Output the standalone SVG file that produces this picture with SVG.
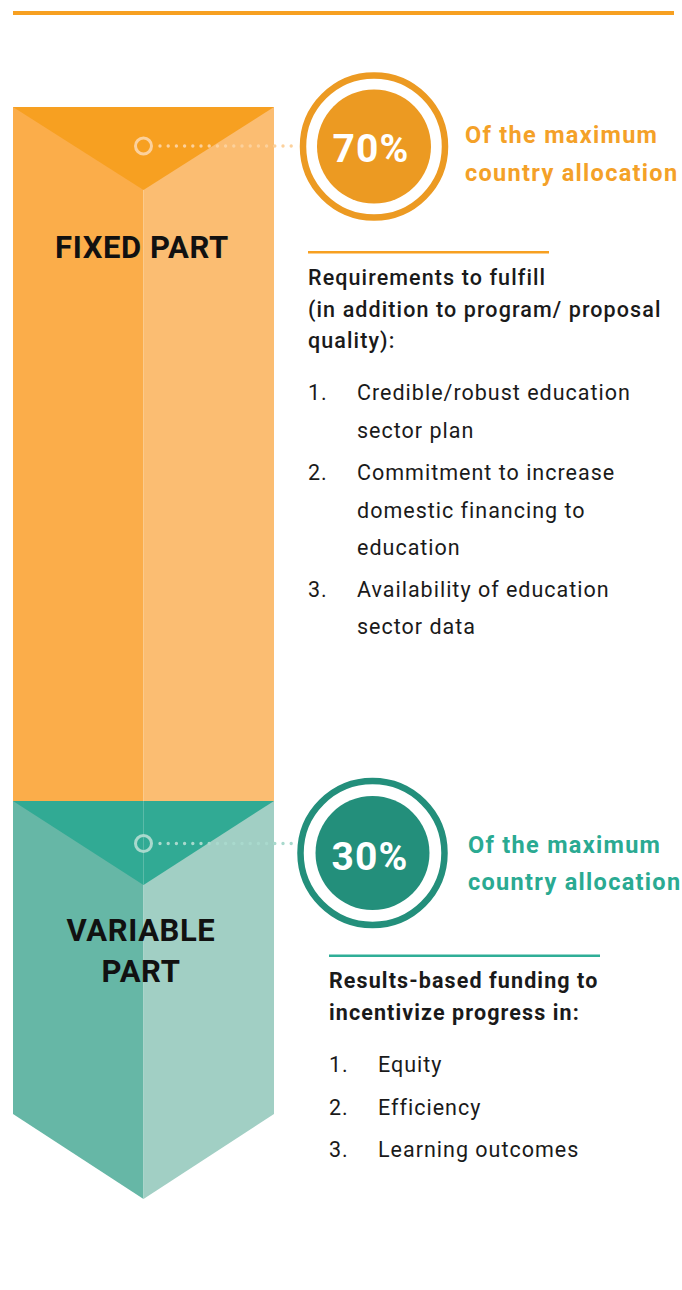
<svg xmlns="http://www.w3.org/2000/svg" width="682" height="1290" viewBox="0 0 682 1290">
<style>
  text { font-family: Roboto, "Liberation Sans", Arial, sans-serif; }
  .pct { font-weight: 700; font-size: 39px; fill: #ffffff; text-anchor: middle; letter-spacing: 1.2px; }
  .lbl { font-weight: 700; font-size: 31px; fill: #111111; text-anchor: middle; letter-spacing: 0.6px; }
  .ofo { font-weight: 700; font-size: 23.5px; fill: #F4A128; letter-spacing: 1.3px; }
  .oft { font-weight: 700; font-size: 23.5px; fill: #2AAA92; letter-spacing: 1.3px; }
  .head { font-weight: 500; font-size: 21.5px; fill: #1a1a1a; letter-spacing: 1.1px; }
  .headb { font-weight: 700; font-size: 21.5px; fill: #1a1a1a; letter-spacing: 1.1px; }
  .item { font-weight: 400; font-size: 21.5px; fill: #1a1a1a; letter-spacing: 1.0px; }
  .dotso { stroke: #FCD19C; stroke-width: 3.4; stroke-linecap: round; stroke-dasharray: 0 8.2; fill: none; }
  .dotst { stroke: #A9D9CD; stroke-width: 3.4; stroke-linecap: round; stroke-dasharray: 0 8.2; fill: none; }
</style>

<rect id="top-rule" x="13" y="11" width="661" height="4" fill="#F7A021"/>

<g id="fixed-column">
  <rect x="13" y="107" width="130.5" height="694" fill="#FBAD4A"/>
  <rect x="143.5" y="107" width="130.5" height="694" fill="#FBBD72"/>
  <polygon points="13,107 274,107 143.5,190" fill="#F7A021"/>
  <circle cx="143.5" cy="146" r="8" fill="none" stroke="#FCD19C" stroke-width="3"/>
  <text class="lbl" x="142" y="258">FIXED PART</text>
</g>

<g id="variable-column">
  <polygon points="13,801 143.5,801 143.5,1199 13,1114" fill="#66B7A6"/>
  <polygon points="143.5,801 274,801 274,1114 143.5,1199" fill="#A1CFC4"/>
  <polygon points="13,801 274,801 143.5,885" fill="#31AA94"/>
  <line x1="143.5" y1="801" x2="143.5" y2="885" stroke="#5BBBA8" stroke-width="1"/>
  <circle cx="143.5" cy="843.5" r="8" fill="none" stroke="#A9D9CD" stroke-width="3"/>
  <text class="lbl" x="141" y="941">VARIABLE</text>
  <text class="lbl" x="141" y="982">PART</text>
</g>

<g id="connectors">
  <line class="dotso" x1="160" y1="146" x2="299" y2="146"/>
  <line class="dotst" x1="160" y1="843.5" x2="297" y2="843.5"/>
</g>

<g id="pct70">
  <circle cx="374" cy="146.5" r="71" fill="none" stroke="#EC9A22" stroke-width="6.5"/>
  <circle cx="374" cy="146.5" r="57" fill="#EC9A22"/>
  <text class="pct" x="371" y="162">70%</text>
</g>

<g id="pct70-label">
  <text class="ofo" x="465" y="143">Of the maximum</text>
  <text class="ofo" x="465" y="181">country allocation</text>
</g>

<g id="fixed-requirements">
  <rect x="308" y="251" width="241" height="2.5" fill="#F7A021"/>
  <text class="head" x="308" y="285">Requirements to fulfill</text>
  <text class="head" x="308" y="317">(in addition to program/ proposal</text>
  <text class="head" x="308" y="348">quality):</text>
  <text class="item" x="308" y="400">1.</text>
  <text class="item" x="357" y="400">Credible/robust education</text>
  <text class="item" x="357" y="438">sector plan</text>
  <text class="item" x="308" y="480">2.</text>
  <text class="item" x="357" y="480">Commitment to increase</text>
  <text class="item" x="357" y="518">domestic financing to</text>
  <text class="item" x="357" y="555">education</text>
  <text class="item" x="308" y="597">3.</text>
  <text class="item" x="357" y="597">Availability of education</text>
  <text class="item" x="357" y="634">sector data</text>
</g>

<g id="pct30">
  <circle cx="372.5" cy="853" r="72" fill="none" stroke="#238F7B" stroke-width="6.5"/>
  <circle cx="372.5" cy="853" r="57" fill="#238F7B"/>
  <text class="pct" x="370" y="870">30%</text>
</g>

<g id="pct30-label">
  <text class="oft" x="468" y="853">Of the maximum</text>
  <text class="oft" x="468" y="890">country allocation</text>
</g>

<g id="variable-results">
  <rect x="329" y="954.5" width="271" height="2.5" fill="#2FAE97"/>
  <text class="headb" x="329" y="988">Results-based funding to</text>
  <text class="headb" x="329" y="1020">incentivize progress in:</text>
  <text class="item" x="329" y="1072">1.</text>
  <text class="item" x="378" y="1072">Equity</text>
  <text class="item" x="329" y="1115">2.</text>
  <text class="item" x="378" y="1115">Efficiency</text>
  <text class="item" x="329" y="1157">3.</text>
  <text class="item" x="378" y="1157">Learning outcomes</text>
</g>
</svg>
